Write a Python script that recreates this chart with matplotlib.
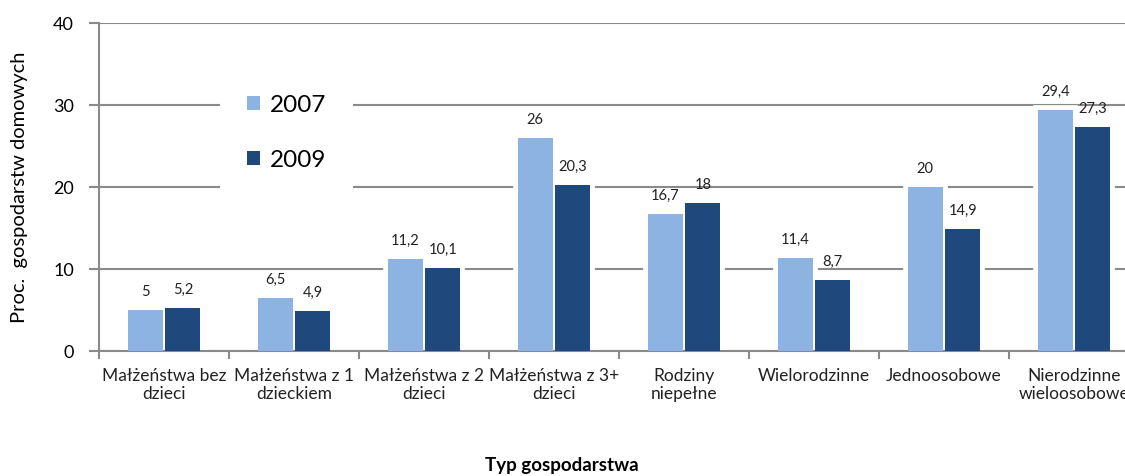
import numpy as np
import matplotlib.pyplot as plt
import matplotlib.patheffects as pe

categories = ["Małżeństwa bez\ndzieci", "Małżeństwa z 1\ndzieckiem", "Małżeństwa z 2\ndzieci",
              "Małżeństwa z 3+\ndzieci", "Rodziny\nniepełne", "Wielorodzinne",
              "Jednoosobowe", "Nierodzinne\nwieloosobowe"]
vals_2007 = [5, 6.5, 11.2, 26, 16.7, 11.4, 20, 29.4]
vals_2009 = [5.2, 4.9, 10.1, 20.3, 18, 8.7, 14.9, 27.3]
years = ["2007", "2009"]
colors = ["#8DB3E2", "#1F497D"]

plt.rcParams["font.family"] = ["Lato", "DejaVu Sans"]

fig = plt.figure(figsize=(11.25, 4.76), dpi=100)
ax = fig.add_axes([99 / 1125, 1 - 351 / 476, 1040 / 1125, 328 / 476])

x = np.arange(len(categories))
w = 0.27
glow = [pe.SimplePatchShadow(offset=(2, -2), shadow_rgbFace="#bbbbbb", alpha=0.4),
        pe.Stroke(linewidth=7, foreground="white")]

for i, (vals, lab, col) in enumerate(zip([vals_2007, vals_2009], years, colors)):
    pos = x + (i - 0.5) * 0.29
    # white halo behind the bars (hides gridlines around them)
    halo = ax.bar(pos, vals, width=w, color="white", zorder=2)
    for b in halo:
        b.set_path_effects(glow)
    ax.bar(pos, vals, width=w, color=col, label=lab, zorder=3)
    for p, v in zip(pos, vals):
        ax.annotate(str(v).replace(".", ","), (p, v), xytext=(0, 13), textcoords="offset points",
                    ha="center", va="center", fontsize=10.5, color="#222222", zorder=4)

ax.set_xlim(-0.5, len(categories) - 0.5)
ax.set_ylim(0, 40)
ax.set_yticks([0, 10, 20, 30, 40])
ax.yaxis.grid(True, color="#8a8a8a", linewidth=1.5, zorder=0)
ax.set_axisbelow(True)

ax.set_xticks(x)
ax.set_xticklabels(categories, fontsize=12.5, color="#222222")
ax.set_xticks(np.arange(len(categories) + 1) - 0.5, minor=True)
ax.tick_params(axis="x", which="major", length=0, pad=12)
ax.tick_params(axis="x", which="minor", length=6, color="#8a8a8a", width=1.5)
ax.tick_params(axis="y", length=7, color="#8a8a8a", width=1.5, labelsize=13, pad=11)

for s in ["top", "right"]:
    ax.spines[s].set_visible(False)
for s in ["left", "bottom"]:
    ax.spines[s].set_color("#8a8a8a")
    ax.spines[s].set_linewidth(1.5)

ax.set_ylabel("Proc.  gospodarstw domowych", fontsize=14.5, labelpad=18)
fig.text(562 / 1125, 1 - 465 / 476, "Typ gospodarstwa", ha="center", va="center",
         fontsize=13.5, fontweight="bold")

leg = ax.legend(loc="upper left", bbox_to_anchor=(0.105, 0.9), fontsize=17.5,
                frameon=True, framealpha=1, edgecolor="none", fancybox=False,
                handlelength=0.55, handleheight=0.55, labelspacing=1.4,
                borderpad=1.1, handletextpad=0.4)
leg.set_zorder(5)

fig.savefig("out.png", dpi=100)
